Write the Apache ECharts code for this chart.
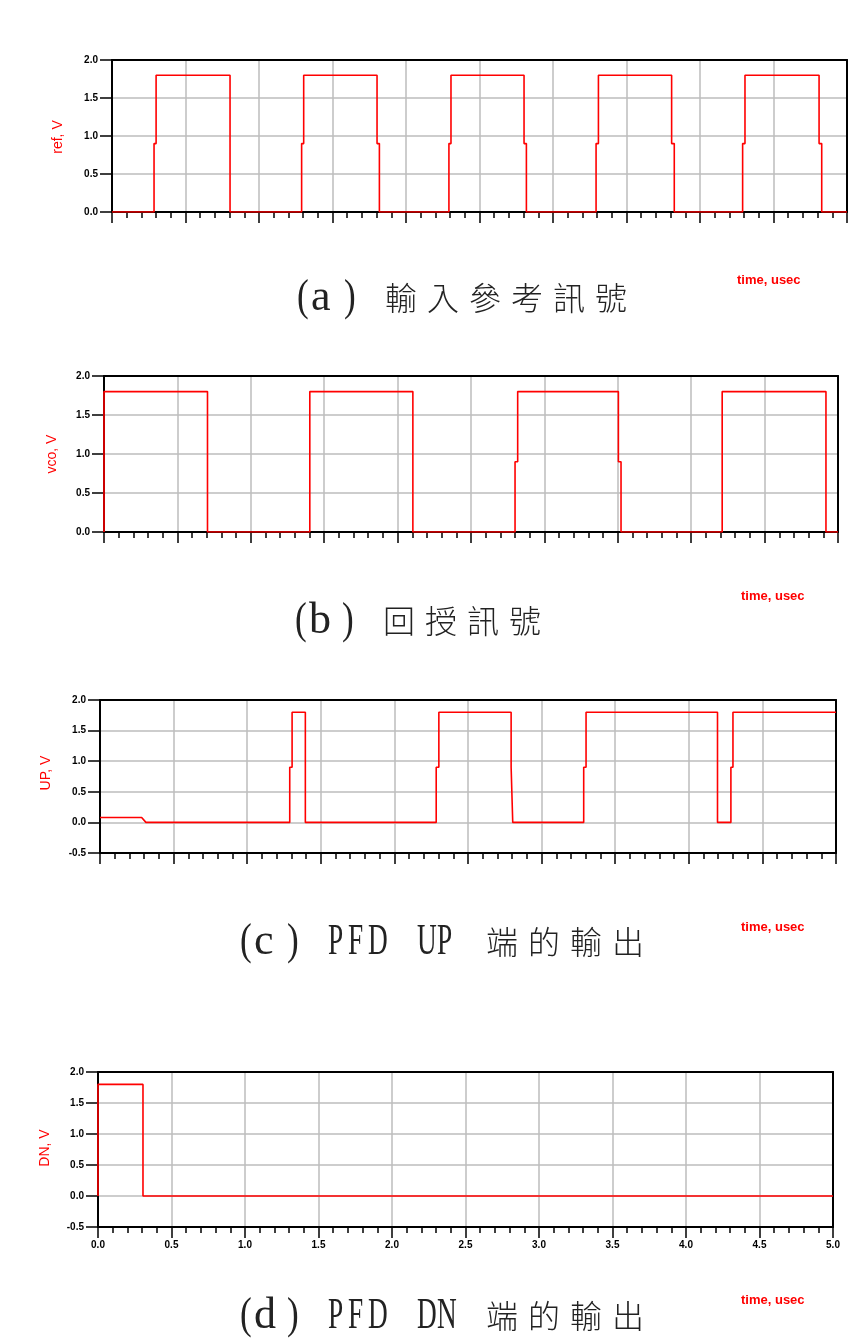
<!DOCTYPE html>
<html>
<head>
<meta charset="utf-8">
<script src="https://cdn.jsdelivr.net/npm/echarts@6/dist/echarts.min.js"></script>
<style>
  html, body { margin: 0; padding: 0; background: #fff; }
  #chart { width: 861px; height: 1342px; }
</style>
</head>
<body>
<div id="chart"></div>
<script>
// Logic levels of the simulated signals (V)
const HIGH = 1.8, MID = 0.9, LOW = 0;
const T_END = 5.0; // usec

// Edge times (usec), alternating rise / fall, and the time each edge
// lingers on the half-supply level before completing.
const refEdges = [0.286, 0.803, 1.290, 1.803, 2.292, 2.803, 3.293, 3.807, 4.290, 4.810];
const refMid   = [0.014, 0,     0.014, 0.016, 0.014, 0.016, 0.016, 0.018, 0.016, 0.018];

const vcoEdges = [0, 0.705, 1.402, 2.104, 2.800, 3.504, 4.211, 4.918];
const vcoMid   = [0, 0,     0,     0,     0.018, 0.018, 0,     0];

const upLead  = [[0, 0.08], [0.283, 0.08], [0.312, 0]];
const upEdges = [1.289, 1.395, 2.284, 2.793, 3.286, 4.195, 4.286];
const upMid   = [0.016, 0,     0.018, 0.011, 0.016, 0,     0.014];

const dnEdges = [0, 0.306];
const dnMid   = [0, 0];

// Axis ticks
const xTicks = [0, 0.5, 1.0, 1.5, 2.0, 2.5, 3.0, 3.5, 4.0, 4.5, 5.0];

// Text
const yNames = ['ref, V', 'vco, V', 'UP, V', 'DN, V'];
const xName = 'time, usec';
const captions = ['(a) 輸入參考訊號', '(b) 回授訊號', '(c) PFD UP 端的輸出', '(d) PFD DN 端的輸出'];

// Turn an edge list into a step polyline
function wave(lead, edges, mids) {
  const pts = lead.length ? lead.map(p => p.slice()) : [[0, LOW]];
  let lv = pts[pts.length - 1][1] > HIGH / 2 ? HIGH : LOW;
  edges.forEach((t, i) => {
    const to = lv === LOW ? HIGH : LOW;
    pts.push([t, lv]);
    if (mids[i] > 0) {
      pts.push([t, MID], [t + mids[i], MID], [t + mids[i], to]);
    } else {
      pts.push([t, to]);
    }
    lv = to;
  });
  pts.push([T_END, lv]);
  return pts;
}

const signals = [
  wave([], refEdges, refMid),
  wave([], vcoEdges, vcoMid),
  wave(upLead, upEdges, upMid),
  wave([], dnEdges, dnMid)
];

// Plot frames
const panels = [
  { left: 112, top: 60,   width: 735, height: 152, yMin: 0,    nameX: 58, nameY: 137,  unitX: 737, unitY: 280,  capX: 297, capY: 298 },
  { left: 104, top: 376,  width: 734, height: 156, yMin: 0,    nameX: 52, nameY: 454,  unitX: 741, unitY: 596,  capX: 295, capY: 621 },
  { left: 100, top: 700,  width: 736, height: 153, yMin: -0.5, nameX: 46, nameY: 773,  unitX: 741, unitY: 927,  capX: 240, capY: 942 },
  { left: 98,  top: 1072, width: 735, height: 155, yMin: -0.5, nameX: 45, nameY: 1148, unitX: 741, unitY: 1300, capX: 240, capY: 1316 }
];

const GRID_GRAY = '#bdbdbd';
const AXIS_BLACK = { color: '#000', width: 2 };
const fmt = v => Number(v).toFixed(1);
const tickFont = { color: '#000', fontSize: 10, fontWeight: 'bold', fontFamily: 'Liberation Sans' };

const grids = [], xAxes = [], yAxes = [], series = [], graphics = [];

panels.forEach((p, i) => {
  grids.push({
    left: p.left, top: p.top, width: p.width, height: p.height,
    show: false, containLabel: false, outerBoundsMode: 'none'
  });
  const xMin = xTicks[0], xMax = xTicks[xTicks.length - 1], xStep = xTicks[1] - xTicks[0];
  // time axis along the bottom
  xAxes.push({
    type: 'value', gridIndex: i, position: 'bottom',
    min: xMin, max: xMax, interval: xStep,
    axisLine: { show: true, onZero: false, lineStyle: AXIS_BLACK },
    axisTick: { show: true, inside: false, length: 11, lineStyle: { color: '#000', width: 1.5 } },
    minorTick: { show: true, splitNumber: 5, length: 6, lineStyle: { color: '#000', width: 1.5 } },
    splitLine: { show: true, lineStyle: { color: GRID_GRAY, width: 1.5 } },
    minorSplitLine: { show: false },
    axisLabel: Object.assign({ show: i === panels.length - 1, margin: 13, formatter: fmt }, tickFont),
    z: 3
  });
  // frame edge along the top
  xAxes.push({
    type: 'value', gridIndex: i, position: 'top',
    min: xMin, max: xMax, interval: xStep,
    axisLine: { show: true, onZero: false, lineStyle: AXIS_BLACK },
    axisTick: { show: false }, axisLabel: { show: false }, splitLine: { show: false },
    z: 3
  });
  // voltage axis on the left
  yAxes.push({
    type: 'value', gridIndex: i, position: 'left', min: p.yMin, max: 2.0, interval: 0.5,
    axisLine: { show: true, onZero: false, lineStyle: AXIS_BLACK },
    axisTick: { show: true, inside: false, length: 12, lineStyle: { color: '#000', width: 1.5 } },
    splitLine: { show: true, lineStyle: { color: GRID_GRAY, width: 1.5 } },
    axisLabel: Object.assign({ show: true, margin: 14, formatter: fmt }, tickFont),
    z: 3
  });
  // frame edge on the right
  yAxes.push({
    type: 'value', gridIndex: i, position: 'right', min: p.yMin, max: 2.0, interval: 0.5,
    axisLine: { show: true, onZero: false, lineStyle: AXIS_BLACK },
    axisTick: { show: false }, axisLabel: { show: false }, splitLine: { show: false },
    z: 3
  });
  series.push({
    type: 'line', xAxisIndex: 2 * i, yAxisIndex: 2 * i,
    data: signals[i], showSymbol: false, smooth: false,
    lineStyle: { color: '#ff0000', width: 1.6 }, z: 5
  });

  // vertical axis name
  graphics.push({
    type: 'text', x: p.nameX, y: p.nameY, rotation: Math.PI / 2,
    style: { text: yNames[i], fill: '#ff0000', font: '14px "Liberation Sans", Arial, sans-serif',
             align: 'center', verticalAlign: 'middle' }
  });
  // time axis unit
  graphics.push({
    type: 'text', x: p.unitX, y: p.unitY,
    style: { text: xName, fill: '#ff0000', font: 'bold 13px "Liberation Sans", Arial, sans-serif',
             align: 'left', verticalAlign: 'middle' }
  });

  // caption, laid out glyph by glyph with wide character spacing
  let cx = p.capX;
  for (const ch of captions[i]) {
    let adv, sx = 0.8, latin = true;
    if (ch === '(') adv = 14;
    else if (ch === ')') adv = 12;
    else if (ch === ' ') { cx += 29; continue; }
    else if (/[a-z]/.test(ch)) { adv = 33; sx = 1.0; }
    else if (/[A-Z]/.test(ch)) { adv = 20; sx = 0.62; }
    else { adv = 42; latin = false; }
    graphics.push(latin ? {
      type: 'text', x: cx, y: p.capY, scaleX: sx,
      style: { text: ch, fill: '#222', font: '44px "Liberation Serif", "DejaVu Serif", serif',
               align: 'left', verticalAlign: 'middle' }
    } : {
      type: 'text', x: cx, y: p.capY,
      style: { text: ch, fill: '#222', font: '300 32px "Noto Sans CJK TC", "Noto Sans CJK SC", sans-serif',
               align: 'left', verticalAlign: 'middle' }
    });
    cx += adv;
  }
});

const chart = echarts.init(document.getElementById('chart'), null, { renderer: 'canvas' });
chart.setOption({
  animation: false,
  backgroundColor: '#fff',
  grid: grids,
  xAxis: xAxes,
  yAxis: yAxes,
  series: series,
  graphic: graphics
});
</script>
</body>
</html>
